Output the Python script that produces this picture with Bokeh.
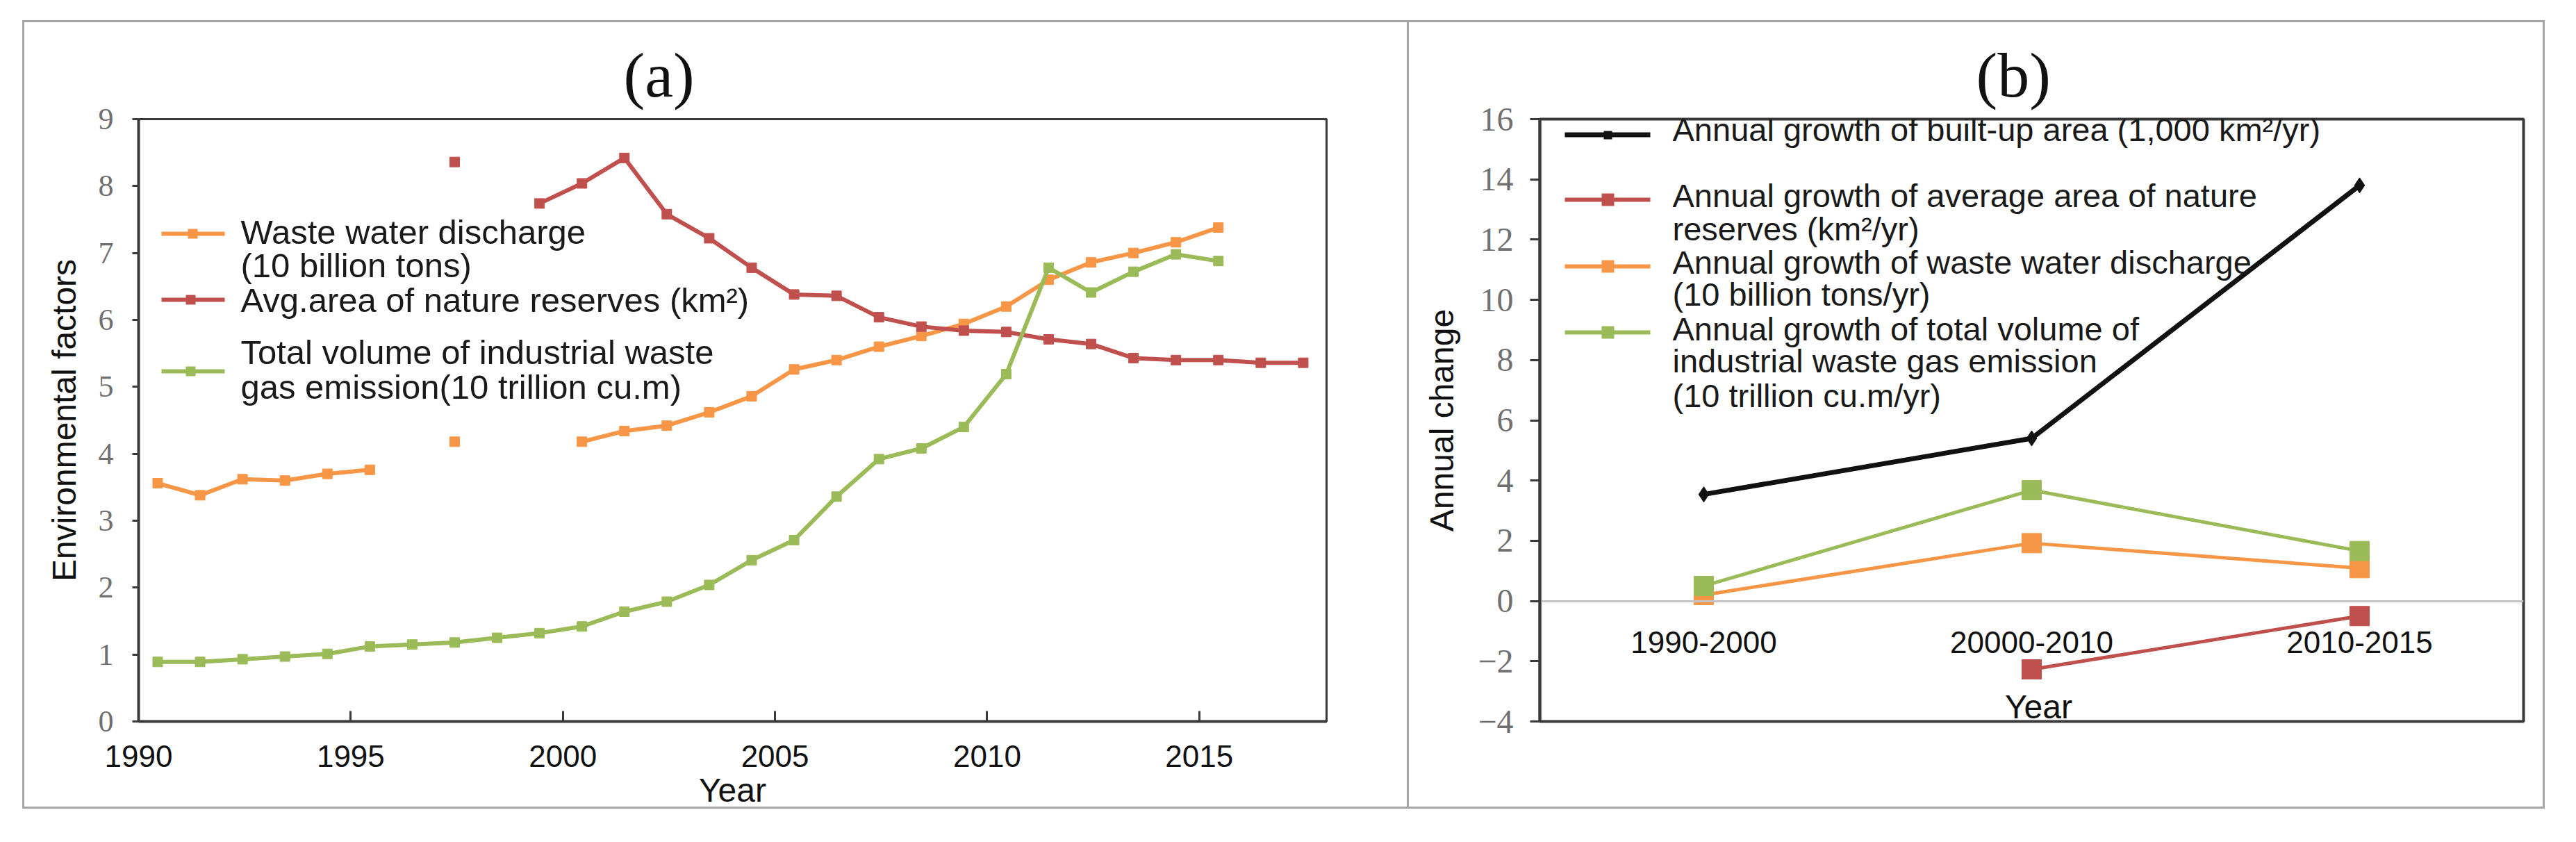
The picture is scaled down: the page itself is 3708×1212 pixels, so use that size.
from bokeh.plotting import figure
from bokeh.models import Range1d, FactorRange, FixedTicker, Label, BoxAnnotation
from bokeh.layouts import row
from bokeh.embed import file_html
from bokeh.resources import INLINE

nan = float("nan")

# ---------------- data: panel (a) ----------------
years = list(range(1990, 2018))
waste_water = [3.56, 3.38, 3.62, 3.60, 3.70, 3.76, nan, 4.18, nan, nan,
               4.18, 4.34, 4.42, 4.62, 4.86, 5.26, 5.40, 5.60, 5.76, 5.94,
               6.20, 6.60, 6.86, 7.00, 7.16, 7.38, nan, nan]
nature_area = [nan, nan, nan, nan, nan, nan, nan, 8.36, nan, 7.74,
               8.04, 8.42, 7.58, 7.22, 6.78, 6.38, 6.36, 6.04, 5.90, 5.84,
               5.82, 5.71, 5.64, 5.43, 5.40, 5.40, 5.36, 5.36]
gas_emission = [0.89, 0.89, 0.93, 0.97, 1.01, 1.12, 1.15, 1.18, 1.25, 1.32,
                1.42, 1.64, 1.79, 2.04, 2.41, 2.71, 3.36, 3.92, 4.08, 4.40,
                5.19, 6.78, 6.41, 6.72, 6.98, 6.88, nan, nan]
xticks_a = [1990, 1995, 2000, 2005, 2010, 2015]
yticks_a = [0, 1, 2, 3, 4, 5, 6, 7, 8, 9]

# ---------------- data: panel (b) ----------------
periods = ["1990-2000", "20000-2010", "2010-2015"]
built_up_growth = [3.54, 5.40, 13.80]
nature_growth = [nan, -2.27, -0.50]
water_growth = [0.20, 1.92, 1.09]
gas_growth = [0.50, 3.68, 1.66]
yticks_b = [-4, -2, 0, 2, 4, 6, 8, 10, 12, 14, 16]

ORANGE = "#F79646"
RED = "#C0504D"
GREEN = "#9BBB59"
BLACK = "#111111"
AXIS = "#3a3a3a"
SANS = "Liberation Sans"
SERIF = "Liberation Serif"

H = 1196
WA, WB = 2025, 1667
# page position of each plot frame's left / bottom edge
FA = (207, 1046)
FB = (2224, 1061)


def box(p, f, x0, x1, y0, y1, color):
    p.add_layout(BoxAnnotation(left=x0 - f[0], right=x1 - f[0],
                               top=f[1] - y0, bottom=f[1] - y1,
                               left_units="screen", right_units="screen",
                               top_units="screen", bottom_units="screen",
                               fill_color=color, fill_alpha=1.0,
                               line_color=None))


def text(p, f, x, y, s, size, font=SANS, color="#1a1a1a", align="left"):
    p.add_layout(Label(x=x - f[0], y=f[1] - y, x_units="screen", y_units="screen",
                       text=s, text_font=font, text_font_size=f"{size}px",
                       text_color=color, text_align=align, text_baseline="middle"))


def style_common(p, label, offset):
    p.grid.visible = False
    p.background_fill_color = "white"
    p.border_fill_color = None
    for ax in p.axis:
        ax.minor_tick_line_color = None
        ax.axis_label_text_font_style = "normal"
    p.title.text = label
    p.title.text_font = SERIF
    p.title.text_font_size = "92px"
    p.title.text_font_style = "normal"
    p.title.text_color = "#111111"
    p.title.align = "left"
    p.title.offset = offset
    p.title.standoff = 25


# ---------------- panel (a) ----------------
pa = figure(width=WA, height=H, x_range=Range1d(1990, 2018), y_range=Range1d(0, 9),
            output_backend="svg", toolbar_location=None,
            min_border_left=199, min_border_right=116,
            min_border_top=164, min_border_bottom=158)
style_common(pa, "(a)", 698)
pa.outline_line_color = AXIS
pa.outline_line_width = 3

pa.xaxis.ticker = FixedTicker(ticks=xticks_a)
pa.xaxis.major_tick_in = 15
pa.xaxis.major_tick_out = 0
pa.xaxis.major_tick_line_width = 3
pa.xaxis.major_tick_line_color = AXIS
pa.xaxis.axis_line_width = 4
pa.xaxis.axis_line_color = AXIS
pa.xaxis.major_label_text_font = SANS
pa.xaxis.major_label_text_font_size = "44px"
pa.xaxis.major_label_text_color = "#111111"
pa.xaxis.major_label_standoff = 34
pa.xaxis.axis_label = "Year"
pa.xaxis.axis_label_text_font = SANS
pa.xaxis.axis_label_text_font_size = "48px"
pa.xaxis.axis_label_text_color = "#111111"
pa.xaxis.axis_label_standoff = 4

pa.yaxis.ticker = FixedTicker(ticks=yticks_a)
pa.yaxis.major_tick_in = 0
pa.yaxis.major_tick_out = 9
pa.yaxis.major_tick_line_width = 3
pa.yaxis.major_tick_line_color = AXIS
pa.yaxis.axis_line_width = 4
pa.yaxis.axis_line_color = AXIS
pa.yaxis.major_label_text_font = SERIF
pa.yaxis.major_label_text_font_size = "44px"
pa.yaxis.major_label_text_color = "#707070"
pa.yaxis.major_label_standoff = 27
pa.yaxis.axis_label = "Environmental factors"
pa.yaxis.axis_label_text_font = SANS
pa.yaxis.axis_label_text_font_size = "48px"
pa.yaxis.axis_label_text_color = "#111111"
pa.yaxis.axis_label_standoff = 20

xa = [y + 0.45 for y in years]
for series, col in ((waste_water, ORANGE), (nature_area, RED), (gas_emission, GREEN)):
    pa.line(xa, series, line_color=col, line_width=6)
    pa.scatter(xa, series, marker="square", size=14, fill_color=col, line_color=col)

# legend (a)
for (y_line, x_mark), col in (((344, 285), ORANGE), ((439, 282), RED), ((542, 282), GREEN)):
    box(pa, FA, 240, 331, y_line - 3, y_line + 3, col)
    box(pa, FA, x_mark - 7, x_mark + 7, y_line - 7, y_line + 7, col)
LA = 49
text(pa, FA, 354, 341, "Waste water discharge", LA)
text(pa, FA, 354, 389, "(10 billion tons)", LA)
text(pa, FA, 354, 439, "Avg.area of nature reserves (km\u00b2)", LA)
text(pa, FA, 354, 514, "Total volume of industrial waste", LA)
text(pa, FA, 354, 564, "gas emission(10 trillion cu.m)", LA)

# ---------------- panel (b) ----------------
pb = figure(width=WB, height=H, x_range=FactorRange(factors=periods, range_padding=0),
            y_range=Range1d(-4, 16),
            output_backend="svg", toolbar_location=None,
            min_border_left=191, min_border_right=60,
            min_border_top=171, min_border_bottom=143)
style_common(pb, "(b)", 628)
pb.outline_line_color = AXIS
pb.outline_line_width = 4

pb.xaxis.fixed_location = 0
pb.xaxis.major_tick_in = 0
pb.xaxis.major_tick_out = 0
pb.xaxis.axis_line_width = 3
pb.xaxis.axis_line_color = "#c4c4c4"
pb.xaxis.major_label_text_font = SANS
pb.xaxis.major_label_text_font_size = "44px"
pb.xaxis.major_label_text_color = "#111111"
pb.xaxis.major_label_standoff = 44

pb.yaxis.ticker = FixedTicker(ticks=yticks_b)
pb.yaxis.major_tick_in = 0
pb.yaxis.major_tick_out = 14
pb.yaxis.major_tick_line_width = 3
pb.yaxis.major_tick_line_color = AXIS
pb.yaxis.axis_line_width = 4
pb.yaxis.axis_line_color = AXIS
pb.yaxis.major_label_text_font = SERIF
pb.yaxis.major_label_text_font_size = "48px"
pb.yaxis.major_label_text_color = "#707070"
pb.yaxis.major_label_standoff = 24
pb.yaxis.axis_label = "Annual change"
pb.yaxis.axis_label_text_font = SANS
pb.yaxis.axis_label_text_font_size = "48px"
pb.yaxis.axis_label_text_color = "#111111"
pb.yaxis.axis_label_standoff = 22

pb.line(periods, built_up_growth, line_color=BLACK, line_width=7)
pb.scatter(periods, built_up_growth, marker="diamond", size=22, fill_color=BLACK, line_color=BLACK)
for series, col in ((nature_growth, RED), (water_growth, ORANGE), (gas_growth, GREEN)):
    pb.line(periods, series, line_color=col, line_width=5)
    pb.scatter(periods, series, marker="square", size=28, fill_color=col, line_color=col)

text(pb, FB, 2942, 1040, "Year", 48, color="#111111", align="center")

# legend (b)
box(pb, FB, 2260, 2383, 213, 220, BLACK)
box(pb, FB, 2316, 2328, 211, 223, BLACK)
for y_line, col in ((310, RED), (406, ORANGE), (501, GREEN)):
    box(pb, FB, 2260, 2383, y_line - 3, y_line + 3, col)
    box(pb, FB, 2313, 2331, y_line - 9, y_line + 9, col)
LB = 47
text(pb, FB, 2415, 209, "Annual growth of  built-up area (1,000 km\u00b2/yr)", LB)
text(pb, FB, 2415, 304, "Annual growth of average area of nature", LB)
text(pb, FB, 2415, 352, "reserves  (km\u00b2/yr)", LB)
text(pb, FB, 2415, 400, "Annual growth of waste water discharge", LB)
text(pb, FB, 2415, 446, "(10 billion tons/yr)", LB)
text(pb, FB, 2415, 496, "Annual growth of total volume of", LB)
text(pb, FB, 2415, 542, "industrial waste gas emission", LB)
text(pb, FB, 2415, 592, "(10 trillion cu.m/yr)", LB)

# outer grey frame around both panels, drawn as the row's CSS background
g = "linear-gradient(#a6a6a6,#a6a6a6)"
frame_css = {
    "background-color": "white",
    "background-image": ", ".join([g] * 5),
    "background-size": "3631px 3px, 3631px 3px, 3px 1135px, 3px 1135px, 3px 1135px",
    "background-position": "32px 29px, 32px 1161px, 32px 29px, 2025px 29px, 3660px 29px",
    "background-repeat": "no-repeat",
}
layout = row(pa, pb, styles=frame_css)
open("out.html", "w").write(file_html(layout, INLINE))
